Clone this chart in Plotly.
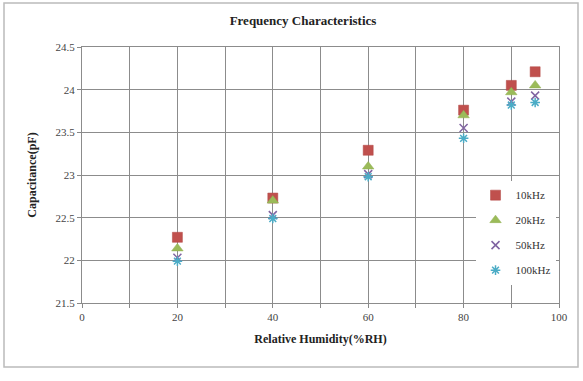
import plotly.graph_objects as go

humidity = [20, 40, 60, 80, 90, 95]
cap_10k = [22.27, 22.73, 23.29, 23.76, 24.05, 24.21]
cap_20k = [22.14, 22.70, 23.10, 23.70, 23.97, 24.05]
cap_50k = [22.03, 22.53, 23.01, 23.55, 23.86, 23.93]
cap_100k = [21.99, 22.49, 22.98, 23.43, 23.82, 23.85]

series_names = ["10kHz", "20kHz", "50kHz", "100kHz"]
x_ticks = [0, 20, 40, 60, 80, 100]
y_ticks = [21.5, 22, 22.5, 23, 23.5, 24, 24.5]

serif = "Liberation Serif, Times New Roman, serif"

styles = [
    dict(symbol="square", color="#C0504D", size=10, line=dict(color="#B04440", width=0.5)),
    dict(symbol="triangle-up", color="#9BBB59", size=10, line=dict(color="#8FAE4E", width=0.5)),
    dict(symbol="x-thin-open", color="#8064A2", size=8, line=dict(color="#8878B0", width=1.5)),
    dict(symbol="asterisk-open", color="#4BACC6", size=8, line=dict(color="#4BACC6", width=1.5)),
]

fig = go.Figure()
for name, vals, st in zip(series_names, [cap_10k, cap_20k, cap_50k, cap_100k], styles):
    fig.add_trace(go.Scatter(
        x=humidity, y=vals, mode="markers", name=name, legendgroup=name,
        marker=st,
    ))

fig.update_layout(
    width=583, height=381,
    margin=dict(l=82, r=24, t=47, b=78),
    paper_bgcolor="white", plot_bgcolor="white",
    font=dict(family=serif, size=11, color="#333333"),
    title=dict(text="<b>Frequency Characteristics</b>", x=303/583, xanchor="center",
               y=1 - 20/381, yanchor="middle",
               font=dict(family=serif, size=13, color="#222222")),
    xaxis=dict(range=[0, 100], tickvals=x_ticks, ticks="outside", ticklen=4,
               tickcolor="#888888", showgrid=True, gridcolor="#8C8C8C", gridwidth=1,
               showline=True, linecolor="#8C8C8C", mirror=True, zeroline=False,
               minor=dict(dtick=10, showgrid=True, gridcolor="#8C8C8C", ticks="outside", ticklen=4, tickcolor="#888888"),
               tickfont=dict(family=serif, size=11, color="#444444"),
               title=dict(text="<b>Relative Humidity(%RH)</b>", standoff=12,
                          font=dict(family=serif, size=12, color="#222222"))),
    yaxis=dict(range=[21.5, 24.5], tickvals=y_ticks, ticktext=[str(v) for v in y_ticks],
               ticks="outside", ticklen=4, tickcolor="#888888",
               showgrid=True, gridcolor="#8C8C8C", gridwidth=1,
               showline=True, linecolor="#8C8C8C", mirror=True, zeroline=False,
               tickfont=dict(family=serif, size=11, color="#444444"),
               title=dict(text="<b>Capacitance(pF)</b>", standoff=16,
                          font=dict(family=serif, size=12, color="#222222"))),
    legend=dict(x=0.825, y=0.478, xanchor="left", yanchor="top",
                bgcolor="white", borderwidth=0, tracegroupgap=6,
                font=dict(family=serif, size=11, color="#333333"),
                itemwidth=30),
    showlegend=True,
    shapes=[dict(type="rect", xref="paper", yref="paper",
                 x0=-78/477, x1=1 + 19/477, y0=-64/256, y1=1 + 44/256,
                 line=dict(color="#BBBBBB", width=1.5))],
)

fig.write_html("out.html")
